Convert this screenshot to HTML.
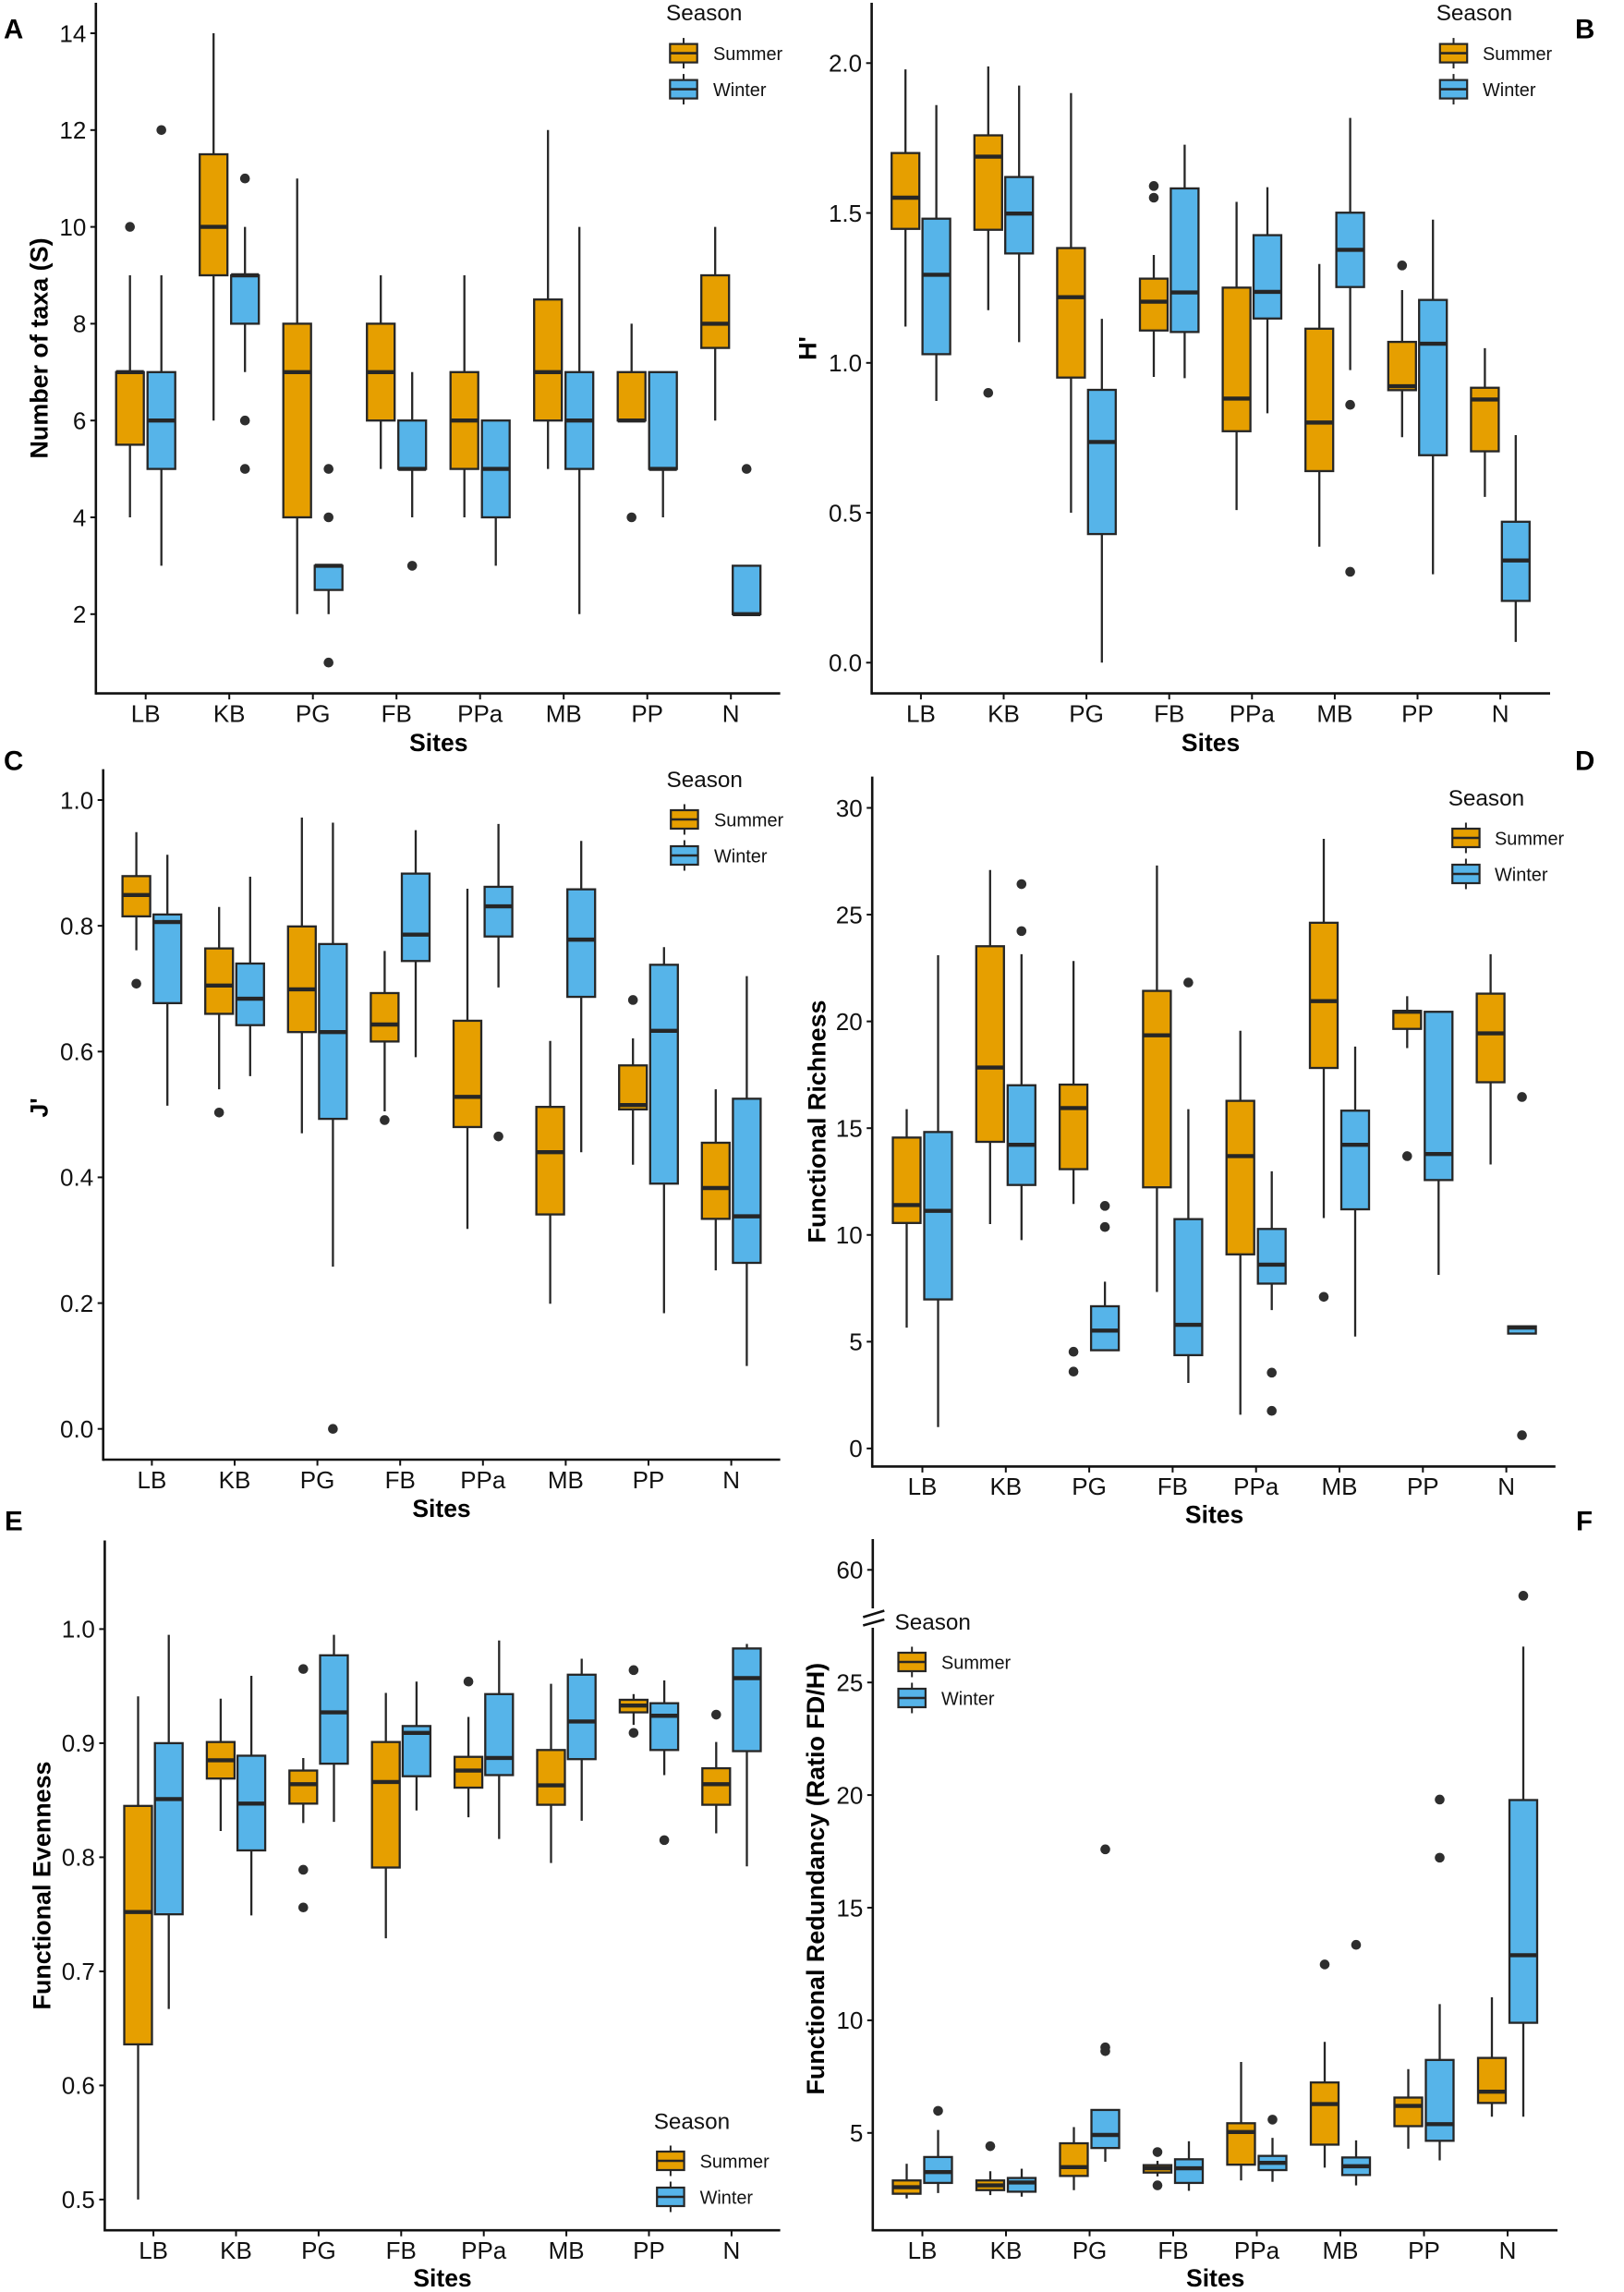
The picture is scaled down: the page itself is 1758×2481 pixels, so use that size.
<!DOCTYPE html>
<html lang="en">
<head>
<meta charset="utf-8">
<title>Seasonal diversity boxplots by site</title>
<style>
html,body{margin:0;padding:0;background:#fff;}
#figure{display:block;width:1758px;height:2481px;font-family:"Liberation Sans",Arial,sans-serif;}
</style>
</head>
<body>
<svg id="figure" xmlns="http://www.w3.org/2000/svg" width="1758" height="2481" viewBox="0 0 1758 2481"></svg>
<script>
// Shared categories and series colours
const sites = ['LB','KB','PG','FB','PPa','MB','PP','N'];
const seasons = ['Summer','Winter'];

// Each row: [lower whisker, Q1, median, Q3, upper whisker], one per site
// Panel A: Number of taxa (S)
const aTicks = [2,4,6,8,10,12,14];
const aSummer = [[4,5.5,7,7,9],[6,9,10,11.5,14],[2,4,7,8,11],[5,6,7,8,9],[4,5,6,7,9],[5,6,7,8.5,12],[6,6,6,7,8],[6,7.5,8,9,10]];
const aSummerOut = [[10],[],[],[],[],[],[4],[]];
const aWinter = [[3,5,6,7,9],[7,8,9,9,10],[2,2.5,3,3,3],[4,5,5,6,7],[3,4,5,6,6],[2,5,6,7,10],[4,5,5,7,7],[2,2,2,3,3]];
const aWinterOut = [[12],[11,6,5],[5,4,1],[3],[],[],[],[5]];

// Panel B: H'
const bTicks = [0,0.5,1,1.5,2];
const bSummer = [[1.121,1.447,1.551,1.70,1.979],[1.176,1.444,1.688,1.759,1.989],[0.50,0.951,1.219,1.383,1.90],[0.953,1.108,1.204,1.281,1.36],[0.509,0.772,0.881,1.251,1.537],[0.387,0.639,0.801,1.114,1.33],[0.752,0.909,0.922,1.07,1.243],[0.553,0.705,0.878,0.917,1.049]];
const bSummerOut = [[],[0.90],[],[1.59,1.551],[],[],[1.325],[]];
const bWinter = [[0.873,1.029,1.294,1.481,1.86],[1.069,1.365,1.498,1.62,1.925],[0,0.429,0.736,0.91,1.147],[0.949,1.103,1.235,1.582,1.728],[0.832,1.148,1.237,1.426,1.586],[0.976,1.253,1.377,1.501,1.817],[0.295,0.692,1.064,1.21,1.478],[0.069,0.206,0.341,0.47,0.759]];
const bWinterOut = [[],[],[],[],[],[0.86,0.303],[],[]];

// Panel C: J'
const cTicks = [0,0.2,0.4,0.6,0.8,1];
const cSummer = [[0.761,0.815,0.849,0.879,0.949],[0.540,0.660,0.705,0.764,0.830],[0.470,0.631,0.699,0.799,0.972],[0.505,0.616,0.643,0.693,0.760],[0.318,0.480,0.528,0.649,0.859],[0.199,0.341,0.440,0.512,0.617],[0.420,0.508,0.515,0.578,0.621],[0.252,0.334,0.383,0.455,0.540]];
const cSummerOut = [[0.708],[0.503],[],[0.491],[],[],[0.682],[]];
const cWinter = [[0.514,0.677,0.806,0.818,0.913],[0.561,0.642,0.684,0.740,0.878],[0.258,0.493,0.631,0.771,0.964],[0.591,0.744,0.786,0.883,0.952],[0.702,0.783,0.831,0.862,0.962],[0.440,0.687,0.778,0.858,0.935],[0.184,0.390,0.633,0.738,0.766],[0.100,0.264,0.338,0.525,0.720]];
const cWinterOut = [[],[],[0],[],[0.465],[],[],[]];

// Panel D: Functional Richness
const dTicks = [0,5,10,15,20,25,30];
const dSummer = [[5.66,10.56,11.4,14.56,15.89],[10.51,14.36,17.84,23.52,27.09],[11.45,13.08,15.94,17.04,22.83],[7.33,12.23,19.35,21.43,27.3],[1.58,9.09,13.69,16.28,19.56],[10.79,17.82,20.95,24.62,28.55],[18.75,19.65,20.45,20.49,21.18],[13.3,17.15,19.44,21.3,23.15]];
const dSummerOut = [[],[],[4.53,3.6],[],[],[7.1],[13.69],[]];
const dWinter = [[1.0,6.98,11.13,14.82,23.1],[9.76,12.34,14.22,17.01,23.15],[4.6,4.6,5.52,6.66,7.81],[3.07,4.37,5.79,10.74,15.89],[6.48,7.72,8.61,10.28,12.98],[5.24,11.2,14.22,15.82,18.82],[8.13,12.57,13.79,20.45,20.47],[5.34,5.38,5.66,5.72,5.75]];
const dWinterOut = [[],[26.43,24.23],[11.36,10.37],[21.82],[3.55,1.76],[],[],[16.46,0.62]];

// Panel E: Functional Evenness
const eTicks = [0.5,0.6,0.7,0.8,0.9,1];
const eSummer = [[0.5,0.636,0.752,0.845,0.941],[0.823,0.869,0.885,0.901,0.939],[0.830,0.847,0.864,0.876,0.887],[0.729,0.791,0.866,0.901,0.944],[0.835,0.861,0.876,0.888,0.923],[0.795,0.846,0.863,0.894,0.952],[0.916,0.927,0.933,0.938,0.943],[0.821,0.846,0.864,0.878,0.901]];
const eSummerOut = [[],[],[0.965,0.789,0.756],[],[0.954],[],[0.964,0.909],[0.925]];
const eWinter = [[0.667,0.750,0.851,0.900,0.995],[0.749,0.806,0.847,0.889,0.959],[0.831,0.882,0.927,0.977,0.995],[0.841,0.871,0.909,0.915,0.954],[0.816,0.872,0.887,0.943,0.990],[0.832,0.886,0.919,0.960,0.974],[0.872,0.894,0.924,0.935,0.955],[0.792,0.893,0.957,0.983,0.987]];
const eWinterOut = [[],[],[],[],[],[],[0.815],[]];

// Panel F: Functional Redundancy (Ratio FD/H), broken axis
const fTicks = [5,10,15,20,25,60];
const fSummer = [[2.09,2.30,2.59,2.89,3.63],[2.24,2.46,2.67,2.89,3.3],[2.46,3.09,3.48,4.54,5.26],[3.07,3.24,3.43,3.57,3.76],[2.89,3.59,5.04,5.43,8.15],[3.46,4.48,6.28,7.24,9.04],[4.3,5.3,6.2,6.57,7.83],[5.72,6.33,6.83,8.33,11.02]];
const fSummerOut = [[],[4.41],[],[4.15,2.67],[],[12.48],[],[]];
const fWinter = [[2.33,2.78,3.26,3.93,5.13],[2.17,2.39,2.8,3.0,3.41],[3.72,4.33,4.91,6.02,6.02],[2.43,2.78,3.43,3.83,4.63],[2.83,3.35,3.67,3.98,4.78],[2.67,3.13,3.52,3.91,4.67],[3.78,4.65,5.39,8.24,10.72],[5.72,9.89,12.89,19.78,26.59]];
const fWinterOut = [[5.98],[],[17.59,8.8,8.63],[],[5.59],[13.35],[19.8,17.22],[58.85]];

const svg = document.getElementById('figure');
const NS = 'http://www.w3.org/2000/svg';
const INK = '#262626';
const FILL = {Summer:'#E69F00', Winter:'#56B4E9'};

function make(parent, tag, props, text){
  const node = document.createElementNS(NS, tag);
  for (const key in props) node.setAttribute(key, props[key]);
  if (text !== undefined) node.textContent = text;
  parent.appendChild(node);
  return node;
}
function line(parent, x1, y1, x2, y2, width, color){
  return make(parent, 'line', {x1:x1, y1:y1, x2:x2, y2:y2, stroke:color || INK, 'stroke-width':width});
}
function label(parent, x, cy, str, size, anchor, weight, color){
  return make(parent, 'text', {x:x, y:cy + size*0.358, 'font-size':size, 'text-anchor':anchor || 'start', 'font-weight':weight || 'normal', fill:color || '#111'}, str);
}
function linearScale(v0, y0, v1, y1){
  const k = (y1 - y0) / (v1 - v0);
  return v => y0 + (v - v0) * k;
}

function drawBox(g, cx, halfW, stats, outliers, yScale, fill){
  const low = stats[0], q1 = stats[1], med = stats[2], q3 = stats[3], high = stats[4];
  const whisker = line(g, cx, yScale(high), cx, yScale(low), 2.3);
  
  
  const box = make(g, 'rect', {x:cx-halfW, y:yScale(q3), width:halfW*2, height:Math.max(yScale(q1)-yScale(q3),0.5), fill:fill, stroke:INK, 'stroke-width':2.3});
  
  
  const median = line(g, cx-halfW, yScale(med), cx+halfW, yScale(med), 4.4);
  
  
  outliers.forEach(v => {
    const dot = make(g, 'circle', {cx:cx, cy:yScale(v), r:5.3, fill:'#2e2e2e'});
    
    
  });
}

function drawLegend(parent, lg){
  const g = make(parent, 'g', {});
  
  
  const title = label(g, lg.titleX, lg.titleY - 0.7, 'Season', 24.3, 'start', 'normal', '#111');
  
  
  seasons.forEach((s, i) => {
    const top = lg.keyY + i * 39;
    const entry = make(g, 'g', {});
    
    
    const mid = lg.keyX + 14.7;
    line(entry, mid, top-6.5, mid, top+26.5, 2);
    make(entry, 'rect', {x:lg.keyX, y:top, width:29.4, height:20, fill:FILL[s], stroke:INK, 'stroke-width':2.2});
    line(entry, lg.keyX, top+10, lg.keyX+29.4, top+10, 2.6);
    label(entry, lg.labelX, top+10.5, s, 19.9, 'start', 'normal', '#111');
  });
}

function drawPanel(p){
  const g = make(svg, 'g', {});
  
  

  const letter = label(g, p.letterX, p.letterY, p.letter, 29.5, 'start', 'bold', '#000');
  
  

  const xScale = i => p.x0 + i * p.step;

  // Marks
  const marks = make(g, 'g', {});
  
  
  sites.forEach((site, i) => {
    drawBox(marks, xScale(i) - p.dodge, 15, p.summer[i], p.summerOut[i], p.y, FILL.Summer);
    drawBox(marks, xScale(i) + p.dodge, 15, p.winter[i], p.winterOut[i], p.y, FILL.Winter);
  });

  // Axes
  const yAxis = make(g, 'g', {});
  
  
  if (p.broken) {
    line(yAxis, p.left, p.top, p.left, p.broken.from, 2.6, '#111');
    line(yAxis, p.left, p.broken.to, p.left, p.bottom + 1.3, 2.6, '#111');
    line(yAxis, p.left-10.5, p.broken.from+9.5, p.left+12.5, p.broken.from+2.5, 2.6, '#111');
    line(yAxis, p.left-10.5, p.broken.from+18.5, p.left+12.5, p.broken.from+12, 2.6, '#111');
  } else {
    line(yAxis, p.left, p.top, p.left, p.bottom + 1.3, 2.6, '#111');
  }
  p.ticks.forEach(t => {
    const yy = p.y(t);
    line(yAxis, p.left-6, yy, p.left, yy, 2, '#111');
    const tick = label(yAxis, p.left-10.5, yy, t.toFixed(p.decimals), 26, 'end');
    
    
  });

  const xAxis = make(g, 'g', {});
  
  
  line(xAxis, p.left, p.bottom, p.right, p.bottom, 2.6, '#111');
  sites.forEach((site, i) => {
    line(xAxis, xScale(i), p.bottom, xScale(i), p.bottom+6.5, 2, '#111');
    const tick = label(xAxis, xScale(i), p.tickY - 1, site, 26, 'middle');
    
    
  });

  const xTitle = label(g, p.xTitleX, p.xTitleY - 1.2, 'Sites', 26.5, 'middle', 'bold', '#000');
  
  

  const yTitle = make(g, 'text', {
    x:0, y:0, 'font-size':26.9, 'font-weight':'bold', 'text-anchor':'middle', fill:'#000',
    transform:'translate(' + (p.yTitleX + 9.5) + ' ' + p.yTitleY + ') rotate(-90)'
  }, p.yTitle);
  
  

  drawLegend(g, p.legend);
}

const lowerF = linearScale(5, 2308.8, 25, 1821.2);
const upperF = linearScale(60, 1699.3, 50, 1943.1);

drawPanel({letter:'A', letterX:4, letterY:30.7,
  left:103.8, right:844.6, top:3, bottom:750.6, x0:157.7, step:90.5, dodge:17, tickY:773.3,
  y:linearScale(2, 664.8, 14, 36), ticks:aTicks, decimals:0,
  summer:aSummer, summerOut:aSummerOut, winter:aWinter, winterOut:aWinterOut,
  yTitle:'Number of taxa (S)', yTitleX:42, yTitleY:377, xTitleX:474.8, xTitleY:804.6,
  legend:{titleX:721, titleY:14, keyX:725.3, keyY:47.6, labelX:772}
});
drawPanel({letter:'B', letterX:1705, letterY:30.7,
  left:943.6, right:1678, top:3, bottom:750.6, x0:996.9, step:89.6, dodge:16.7, tickY:773.3,
  y:linearScale(0, 717.3, 2, 68.3), ticks:bTicks, decimals:1,
  summer:bSummer, summerOut:bSummerOut, winter:bWinter, winterOut:bWinterOut,
  yTitle:"H'", yTitleX:874, yTitleY:377, xTitleX:1310.6, xTitleY:804.6,
  legend:{titleX:1554.7, titleY:14, keyX:1558.8, keyY:47.6, labelX:1605}
});
drawPanel({letter:'C', letterX:4, letterY:823,
  left:111.7, right:844.6, top:832.6, bottom:1580, x0:164.4, step:89.6, dodge:16.8, tickY:1602.8,
  y:linearScale(0, 1546.7, 1, 866), ticks:cTicks, decimals:1,
  summer:cSummer, summerOut:cSummerOut, winter:cWinter, winterOut:cWinterOut,
  yTitle:"J'", yTitleX:42, yTitleY:1199, xTitleX:478, xTitleY:1633.5,
  legend:{titleX:721.5, titleY:844, keyX:726.2, keyY:877, labelX:773}
});
drawPanel({letter:'D', letterX:1705, letterY:823,
  left:944.2, right:1683.8, top:840.6, bottom:1587.4, x0:998.5, step:90.3, dodge:17, tickY:1609.7,
  y:linearScale(0, 1567.9, 30, 874.5), ticks:dTicks, decimals:0,
  summer:dSummer, summerOut:dSummerOut, winter:dWinter, winterOut:dWinterOut,
  yTitle:'Functional Richness', yTitleX:884, yTitleY:1214, xTitleX:1314.6, xTitleY:1640,
  legend:{titleX:1567.7, titleY:864, keyX:1572.2, keyY:897, labelX:1618}
});
drawPanel({letter:'E', letterX:5, letterY:1646,
  left:113.4, right:844.6, top:1667.5, bottom:2414.2, x0:166.1, step:89.4, dodge:16.6, tickY:2436.5,
  y:linearScale(0.5, 2380.9, 1, 1763.4), ticks:eTicks, decimals:1,
  summer:eSummer, summerOut:eSummerOut, winter:eWinter, winterOut:eWinterOut,
  yTitle:'Functional Evenness', yTitleX:45, yTitleY:2041, xTitleX:479, xTitleY:2466.7,
  legend:{titleX:707.7, titleY:2296.6, keyX:711.2, keyY:2329, labelX:757.6}
});
drawPanel({letter:'F', letterX:1706, letterY:1646,
  left:944.8, right:1686, top:1666, bottom:2414.2, x0:998.5, step:90.5, dodge:17, tickY:2436.5,
  y:v => v > 30 ? upperF(v) : lowerF(v), ticks:fTicks, decimals:0, broken:{from:1741, to:1762},
  summer:fSummer, summerOut:fSummerOut, winter:fWinter, winterOut:fWinterOut,
  yTitle:'Functional Redundancy (Ratio FD/H)', yTitleX:882.5, yTitleY:2033.7, xTitleX:1315.7, xTitleY:2466.7,
  legend:{titleX:968.5, titleY:1756, keyX:972.5, keyY:1789, labelX:1019}
});
</script>
</body>
</html>
